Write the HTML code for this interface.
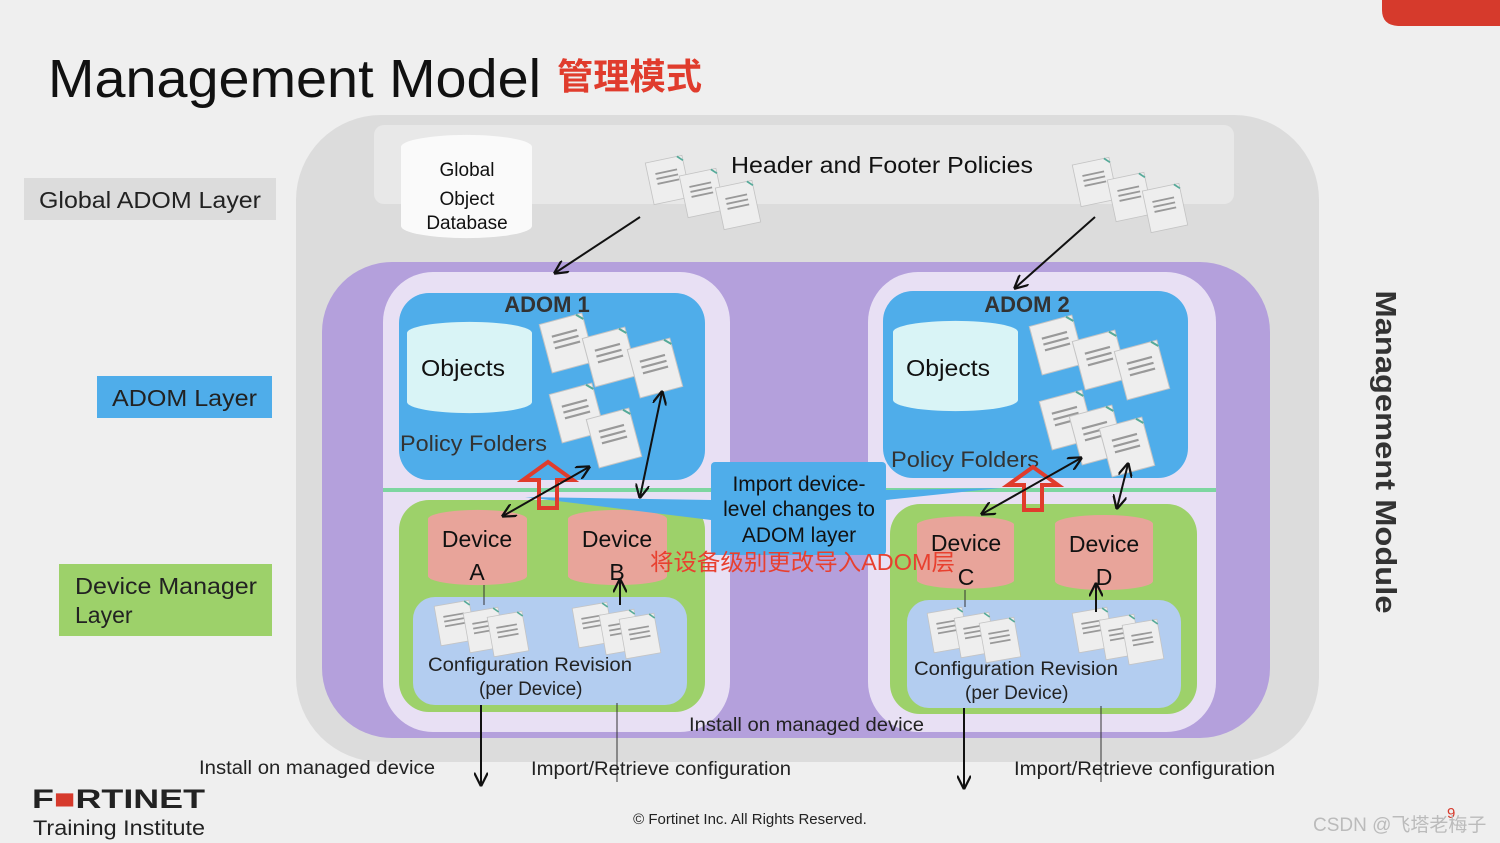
<!DOCTYPE html>
<html><head><meta charset="utf-8"><style>
html,body{margin:0;padding:0;background:#efefef;}
svg{display:block;font-family:"Liberation Sans","Noto Sans CJK SC",sans-serif;}
</style></head><body>
<svg width="1500" height="843" viewBox="0 0 1500 843" xmlns="http://www.w3.org/2000/svg">
<defs>
<marker id="ah" viewBox="0 0 10 10" refX="9" refY="5" markerWidth="7" markerHeight="7" orient="auto-start-reverse"><path d="M0,0 L10,5 L0,10" fill="none" stroke="#111" stroke-width="1.6"/></marker>
<g id="doc"><rect x="-22" y="-25" width="44" height="50" fill="#eeeeee" stroke="#c4c4c4" stroke-width="1"/><path d="M16,-25 L22,-19" stroke="#5a9" stroke-width="2"/><path d="M-13,-10 H13 M-13,-4 H13 M-13,2 H13" stroke="#999" stroke-width="2.2"/></g>
</defs>
<rect width="1500" height="843" fill="#efefef"/>
<path d="M1382,0 H1500 V26 H1400 Q1382,26 1382,10 Z" fill="#d63a2c"/>
<text x="48" y="97" font-size="54" fill="#111" textLength="493" lengthAdjust="spacingAndGlyphs">Management Model</text>
<text x="557" y="89" font-size="36" font-weight="bold" fill="#e03c2d" textLength="145" lengthAdjust="spacingAndGlyphs">管理模式</text>

<rect x="296" y="115" width="1023" height="647" rx="85" fill="#dcdcdc"/>
<rect x="374" y="125" width="860" height="79" rx="10" fill="#e8e8e8"/>
<path d="M401,147 A65,12 0 0 1 532,147 V226 A65,12 0 0 1 401,226 Z" fill="#fafafa"/>
<text font-size="19" fill="#111" text-anchor="middle"><tspan x="467" y="176">Global</tspan><tspan x="467" y="205">Object</tspan><tspan x="467" y="229">Database</tspan></text>
<text x="731" y="173" font-size="23" fill="#111" textLength="302" lengthAdjust="spacingAndGlyphs">Header and Footer Policies</text>
<g transform="translate(668,180) rotate(-12) scale(0.85)"><use href="#doc"/></g>
<g transform="translate(702,193) rotate(-12) scale(0.85)"><use href="#doc"/></g>
<g transform="translate(738,205) rotate(-12) scale(0.85)"><use href="#doc"/></g>
<g transform="translate(1095,182) rotate(-12) scale(0.85)"><use href="#doc"/></g>
<g transform="translate(1130,197) rotate(-12) scale(0.85)"><use href="#doc"/></g>
<g transform="translate(1165,208) rotate(-12) scale(0.85)"><use href="#doc"/></g>

<rect x="322" y="262" width="948" height="476" rx="70" fill="#b4a0dc"/>
<rect x="383" y="272" width="347" height="460" rx="50" fill="#e8e0f4"/>
<rect x="868" y="272" width="348" height="460" rx="50" fill="#e8e0f4"/>
<rect x="399" y="293" width="306" height="187" rx="30" fill="#4fadea"/>
<rect x="883" y="291" width="305" height="187" rx="30" fill="#4fadea"/>
<text x="547" y="312" font-size="22" font-weight="bold" fill="#333" text-anchor="middle">ADOM 1</text>
<text x="1027" y="312" font-size="22" font-weight="bold" fill="#333" text-anchor="middle">ADOM 2</text>
<path d="M407,333 A62,11 0 0 1 532,333 V402 A62,11 0 0 1 407,402 Z" fill="#d9f4f6"/>
<path d="M893,332 A62,11 0 0 1 1018,332 V400 A62,11 0 0 1 893,400 Z" fill="#d9f4f6"/>
<text x="421" y="376" font-size="23" fill="#111" textLength="84" lengthAdjust="spacingAndGlyphs">Objects</text>
<text x="906" y="376" font-size="23" fill="#111" textLength="84" lengthAdjust="spacingAndGlyphs">Objects</text>
<text x="400" y="451" font-size="22" fill="#333" textLength="147" lengthAdjust="spacingAndGlyphs">Policy Folders</text>
<text x="891" y="467" font-size="22" fill="#333" textLength="148" lengthAdjust="spacingAndGlyphs">Policy Folders</text>
<g transform="translate(567,343) rotate(-15)"><use href="#doc"/></g>
<g transform="translate(610,357) rotate(-15)"><use href="#doc"/></g>
<g transform="translate(655,368) rotate(-15)"><use href="#doc"/></g>
<g transform="translate(577,413) rotate(-15)"><use href="#doc"/></g>
<g transform="translate(614,438) rotate(-15)"><use href="#doc"/></g>
<g transform="translate(1057,345) rotate(-15)"><use href="#doc"/></g>
<g transform="translate(1100,360) rotate(-15)"><use href="#doc"/></g>
<g transform="translate(1142,370) rotate(-15)"><use href="#doc"/></g>
<g transform="translate(1067,420) rotate(-15)"><use href="#doc"/></g>
<g transform="translate(1097,435) rotate(-15)"><use href="#doc"/></g>
<g transform="translate(1127,447) rotate(-15)"><use href="#doc"/></g>

<rect x="383" y="488" width="833" height="4" fill="#7dd6a0"/>
<rect x="399" y="500" width="306" height="212" rx="30" fill="#9dd16a"/>
<rect x="890" y="504" width="307" height="210" rx="30" fill="#9dd16a"/>
<path d="M428,519 A49,9 0 0 1 527,519 V576 A49,9 0 0 1 428,576 Z" fill="#e8a49a"/>
<path d="M568,519 A49,9 0 0 1 667,519 V576 A49,9 0 0 1 568,576 Z" fill="#e8a49a"/>
<path d="M917,524 A49,9 0 0 1 1014,524 V581 A49,9 0 0 1 917,581 Z" fill="#e8a49a"/>
<path d="M1055,524 A49,9 0 0 1 1153,524 V581 A49,9 0 0 1 1055,581 Z" fill="#e8a49a"/>
<g font-size="23" fill="#111" text-anchor="middle">
<text x="477" y="547">Device</text><text x="477" y="580">A</text>
<text x="617" y="547">Device</text><text x="617" y="580">B</text>
<text x="966" y="551">Device</text><text x="966" y="585">C</text>
<text x="1104" y="552">Device</text><text x="1104" y="585">D</text>
</g>
<rect x="413" y="597" width="274" height="108" rx="22" fill="#b3cdf0"/>
<rect x="907" y="600" width="274" height="108" rx="22" fill="#b3cdf0"/>
<g transform="translate(455,623) rotate(-10) scale(0.8)"><use href="#doc"/></g>
<g transform="translate(484,630) rotate(-10) scale(0.8)"><use href="#doc"/></g>
<g transform="translate(508,634) rotate(-10) scale(0.8)"><use href="#doc"/></g>
<g transform="translate(593,625) rotate(-10) scale(0.8)"><use href="#doc"/></g>
<g transform="translate(620,632) rotate(-10) scale(0.8)"><use href="#doc"/></g>
<g transform="translate(640,636) rotate(-10) scale(0.8)"><use href="#doc"/></g>
<g transform="translate(948,630) rotate(-10) scale(0.8)"><use href="#doc"/></g>
<g transform="translate(975,635) rotate(-10) scale(0.8)"><use href="#doc"/></g>
<g transform="translate(1000,640) rotate(-10) scale(0.8)"><use href="#doc"/></g>
<g transform="translate(1093,630) rotate(-10) scale(0.8)"><use href="#doc"/></g>
<g transform="translate(1120,637) rotate(-10) scale(0.8)"><use href="#doc"/></g>
<g transform="translate(1143,642) rotate(-10) scale(0.8)"><use href="#doc"/></g>
<g font-size="19" fill="#222">
<text x="428" y="671" textLength="204" lengthAdjust="spacingAndGlyphs">Configuration Revision</text><text x="479" y="695">(per Device)</text>
<text x="914" y="675" textLength="204" lengthAdjust="spacingAndGlyphs">Configuration Revision</text><text x="965" y="699">(per Device)</text>
</g>

<path d="M525,497 L711,500 L711,520 Z" fill="#4fadea"/>
<path d="M886,490 L1000,488 L886,500 Z" fill="#4fadea"/>
<rect x="711" y="462" width="175" height="93" rx="4" fill="#4fadea"/>
<text font-size="21" fill="#111" text-anchor="middle"><tspan x="799" y="491">Import device-</tspan><tspan x="799" y="516">level changes to</tspan><tspan x="799" y="542">ADOM layer</tspan></text>
<text x="650" y="570" font-size="23" fill="#e8402f" textLength="305" lengthAdjust="spacingAndGlyphs">将设备级别更改导入ADOM层</text>

<path d="M548,462 L573,480 L557,480 L557,508 L539,508 L539,480 L523,480 Z" fill="none" stroke="#e03c2d" stroke-width="4"/>
<path d="M1033,467 L1058,485 L1042,485 L1042,510 L1024,510 L1024,485 L1008,485 Z" fill="none" stroke="#e03c2d" stroke-width="4"/>

<g stroke="#111" stroke-width="2" fill="none">
<line x1="640" y1="217" x2="555" y2="273" marker-end="url(#ah)"/>
<line x1="1095" y1="217" x2="1015" y2="288" marker-end="url(#ah)"/>
<line x1="503" y1="516" x2="589" y2="467" marker-start="url(#ah)" marker-end="url(#ah)"/>
<line x1="640" y1="497" x2="662" y2="392" marker-start="url(#ah)" marker-end="url(#ah)"/>
<line x1="982" y1="514" x2="1081" y2="458" marker-start="url(#ah)" marker-end="url(#ah)"/>
<line x1="1117" y1="508" x2="1128" y2="464" marker-start="url(#ah)" marker-end="url(#ah)"/>
<line x1="620" y1="605" x2="620" y2="580" marker-end="url(#ah)"/>
<line x1="1096" y1="612" x2="1096" y2="584" marker-end="url(#ah)"/>
<line x1="481" y1="705" x2="481" y2="785" marker-end="url(#ah)"/>
<line x1="964" y1="708" x2="964" y2="788" marker-end="url(#ah)"/>
</g>
<g stroke="#333" stroke-width="1">
<line x1="484" y1="585" x2="484" y2="605"/><line x1="965" y1="590" x2="965" y2="607"/>
<line x1="617" y1="703" x2="617" y2="782"/><line x1="1101" y1="706" x2="1101" y2="782"/>
</g>

<g font-size="19" fill="#222">
<text x="689" y="731" textLength="235" lengthAdjust="spacingAndGlyphs">Install on managed device</text>
<text x="199" y="774" textLength="236" lengthAdjust="spacingAndGlyphs">Install on managed device</text>
<text x="531" y="775" textLength="260" lengthAdjust="spacingAndGlyphs">Import/Retrieve configuration</text>
<text x="1014" y="775" textLength="261" lengthAdjust="spacingAndGlyphs">Import/Retrieve configuration</text>
</g>

<rect x="24" y="178" width="252" height="42" fill="#dcdcdc"/>
<text x="39" y="208" font-size="23" fill="#222" textLength="222" lengthAdjust="spacingAndGlyphs">Global ADOM Layer</text>
<rect x="97" y="376" width="175" height="42" fill="#4fadea"/>
<text x="112" y="406" font-size="23" fill="#222" textLength="145" lengthAdjust="spacingAndGlyphs">ADOM Layer</text>
<rect x="59" y="564" width="213" height="72" fill="#9dd16a"/>
<text x="75" y="594" font-size="23" fill="#222" textLength="182" lengthAdjust="spacingAndGlyphs">Device Manager</text>
<text x="75" y="623" font-size="23" fill="#222">Layer</text>

<text transform="translate(1376,452) rotate(90)" font-size="29" font-weight="bold" fill="#333" text-anchor="middle" textLength="323" lengthAdjust="spacingAndGlyphs">Management Module</text>

<text x="32" y="808" font-size="27" font-weight="bold" fill="#222" textLength="173" lengthAdjust="spacingAndGlyphs">F<tspan fill="#d63a2c">■</tspan>RTINET</text>
<text x="33" y="835" font-size="21" fill="#222" textLength="172" lengthAdjust="spacingAndGlyphs">Training Institute</text>
<text x="750" y="824" font-size="15" fill="#222" text-anchor="middle">© Fortinet Inc. All Rights Reserved.</text>
<text x="1447" y="818" font-size="15" fill="#d63a2c">9</text>
<text x="1313" y="831" font-size="19" fill="#bbb">CSDN @飞塔老梅子</text>
</svg>
</body></html>
